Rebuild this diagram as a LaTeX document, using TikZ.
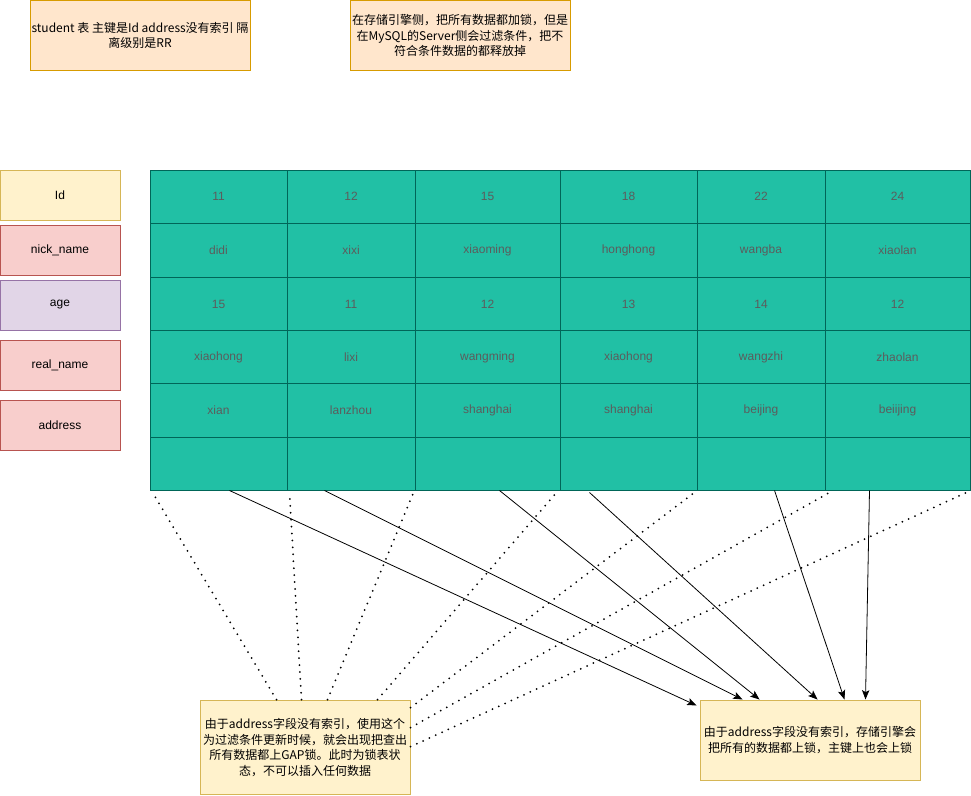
\documentclass[tikz,border=0pt]{standalone}
\usepackage{fontspec}
\setmainfont{Liberation Sans}
\newfontfamily\cjk{Noto Sans CJK SC}
\usepackage{tikz}
\usetikzlibrary{arrows.meta, calc}
\definecolor{cellfill}{RGB}{33,192,165}
\definecolor{cellline}{RGB}{0,102,88}
\definecolor{celltext}{RGB}{92,92,92}
\definecolor{idfill}{RGB}{255,242,204}
\definecolor{idline}{RGB}{214,182,86}
\definecolor{redfill}{RGB}{248,206,204}
\definecolor{redline}{RGB}{184,84,80}
\definecolor{agefill}{RGB}{225,213,231}
\definecolor{ageline}{RGB}{150,115,166}
\definecolor{notefill}{RGB}{255,230,204}
\definecolor{noteline}{RGB}{215,155,0}
\def\colx{{218.5,351,487.5,628.5,761,897.5}}
\tikzset{
  field/.style={rectangle, minimum width=90pt, minimum height=37.5pt,
    font=\fontsize{9}{11}\selectfont, line width=0.75pt},
  idfield/.style={field, draw=idline, fill=idfill},
  redfield/.style={field, draw=redline, fill=redfill},
  agefield/.style={field, draw=ageline, fill=agefill},
  tablebox/.style={rectangle, draw=cellline, fill=cellfill, line width=0.75pt,
    minimum width=615pt, minimum height=240pt},
  gridline/.style={line width=0.75pt, color=cellline},
  cell/.style={font=\fontsize{9}{11}\selectfont, text=celltext},
  note/.style={rectangle, align=center, line width=0.75pt, inner xsep=1pt,
    font=\cjk\fontsize{9}{11.6}\selectfont},
  topnote/.style={note, draw=noteline, fill=notefill},
  lownote/.style={note, draw=idline, fill=idfill},
  arrow/.style={-{Stealth[length=7pt,width=5.5pt,inset=1.5pt]}, line width=0.6pt, color=black},
  dotline/.style={line width=1.5pt, dash pattern=on 0pt off 5.2pt, line cap=round, color=black}
}
\begin{document}
\begin{tikzpicture}[x=0.75pt, y=-0.75pt]
  \useasboundingbox (0,0) rectangle (971,796);
  % Notes on top
  \node[topnote, minimum width=165pt, minimum height=52pt] (noteA) at (140,35.5)
    {student 表 主键是Id address没有索引 隔\\离级别是RR};
  \node[topnote, minimum width=165pt, minimum height=52pt] (noteB) at (460,35.5)
    {在存储引擎侧，把所有数据都加锁，但是\\在MySQL的Server侧会过滤条件，把不\\符合条件数据的都释放掉};
  % Column names
  \node[idfield] (fid) at (60,195) {Id};
  \node[redfield] (fnick) at (60,250) {nick\_name};
  \node[agefield] (fage) at (60,305) {age};
  \node[redfield] (freal) at (60,365) {real\_name};
  \node[redfield] (faddr) at (60,425) {address};
  % Table
  \node[tablebox] (tbl) at (560,330) {};
  \foreach \x in {287,415,560,697,825} \draw[gridline] (\x,170) -- (\x,490);
  \foreach \y in {223,277,330,383,437} \draw[gridline] (150,\y) -- (970,\y);
  % Cell values
  \foreach \r/\y/\vals in {1/196.5/{11,12,15,18,22,24},
      2/250/{didi,xixi,xiaoming,honghong,wangba,xiaolan},
      3/304/{15,11,12,13,14,12},
      4/357/{xiaohong,lixi,wangming,xiaohong,wangzhi,zhaolan},
      5/410/{xian,lanzhou,shanghai,shanghai,beijing,beiijing}}
    \foreach \v [count=\c] in \vals {
      \pgfmathsetmacro\cx{\colx[\c-1]}
      \node[cell] (c\r\c) at (\cx,\y) {\v};
    }
  % Notes below
  \node[lownote, minimum width=157.5pt, minimum height=71pt] (noteC) at (305,747.5)
    {由于address字段没有索引，使用这个\\为过滤条件更新时候，就会出现把查出\\所有数据都上GAP锁。此时为锁表状\\态，不可以插入任何数据};
  \node[lownote, minimum width=165pt, minimum height=60pt] (noteD) at (810,740)
    {由于address字段没有索引，存储引擎会\\把所有的数据都上锁，主键上也会上锁};
  % Locked rows -> noteD
  \draw[arrow] ($(tbl.south west)+(80,0)$) -- ($(noteD.north west)+(-3,6)$);
  \draw[arrow] ($(tbl.south west)+(175,0)$) -- ($(noteD.north west)+(43,0)$);
  \draw[arrow] ($(tbl.south west)+(350,0)$) -- ($(noteD.north west)+(60,0)$);
  \draw[arrow] ($(tbl.south west)+(440,2)$) -- ($(noteD.north west)+(118,0)$);
  \draw[arrow] ($(tbl.south west)+(625,0)$) -- ($(noteD.north west)+(145,0)$);
  \draw[arrow] ($(tbl.south west)+(720,0)$) -- ($(noteD.north west)+(166,0)$);
  % GAP locks -> noteC
  \draw[dotline] ($(noteC.north west)+(77,0)$) -- ($(tbl.south west)+(3,2)$);
  \draw[dotline] ($(noteC.north west)+(102,0)$) -- ($(tbl.south west)+(140,2)$);
  \draw[dotline] ($(noteC.north west)+(128,0)$) -- ($(tbl.south west)+(264,2)$);
  \draw[dotline] ($(noteC.north west)+(178,0)$) -- ($(tbl.south west)+(407,2)$);
  \draw[dotline] ($(noteC.north east)+(0,8)$) -- ($(tbl.south west)+(545,2)$);
  \draw[dotline] ($(noteC.north east)+(0,28)$) -- ($(tbl.south west)+(680,2)$);
  \draw[dotline] ($(noteC.north east)+(0,47)$) -- ($(tbl.south west)+(817,2)$);
\end{tikzpicture}
\end{document}
